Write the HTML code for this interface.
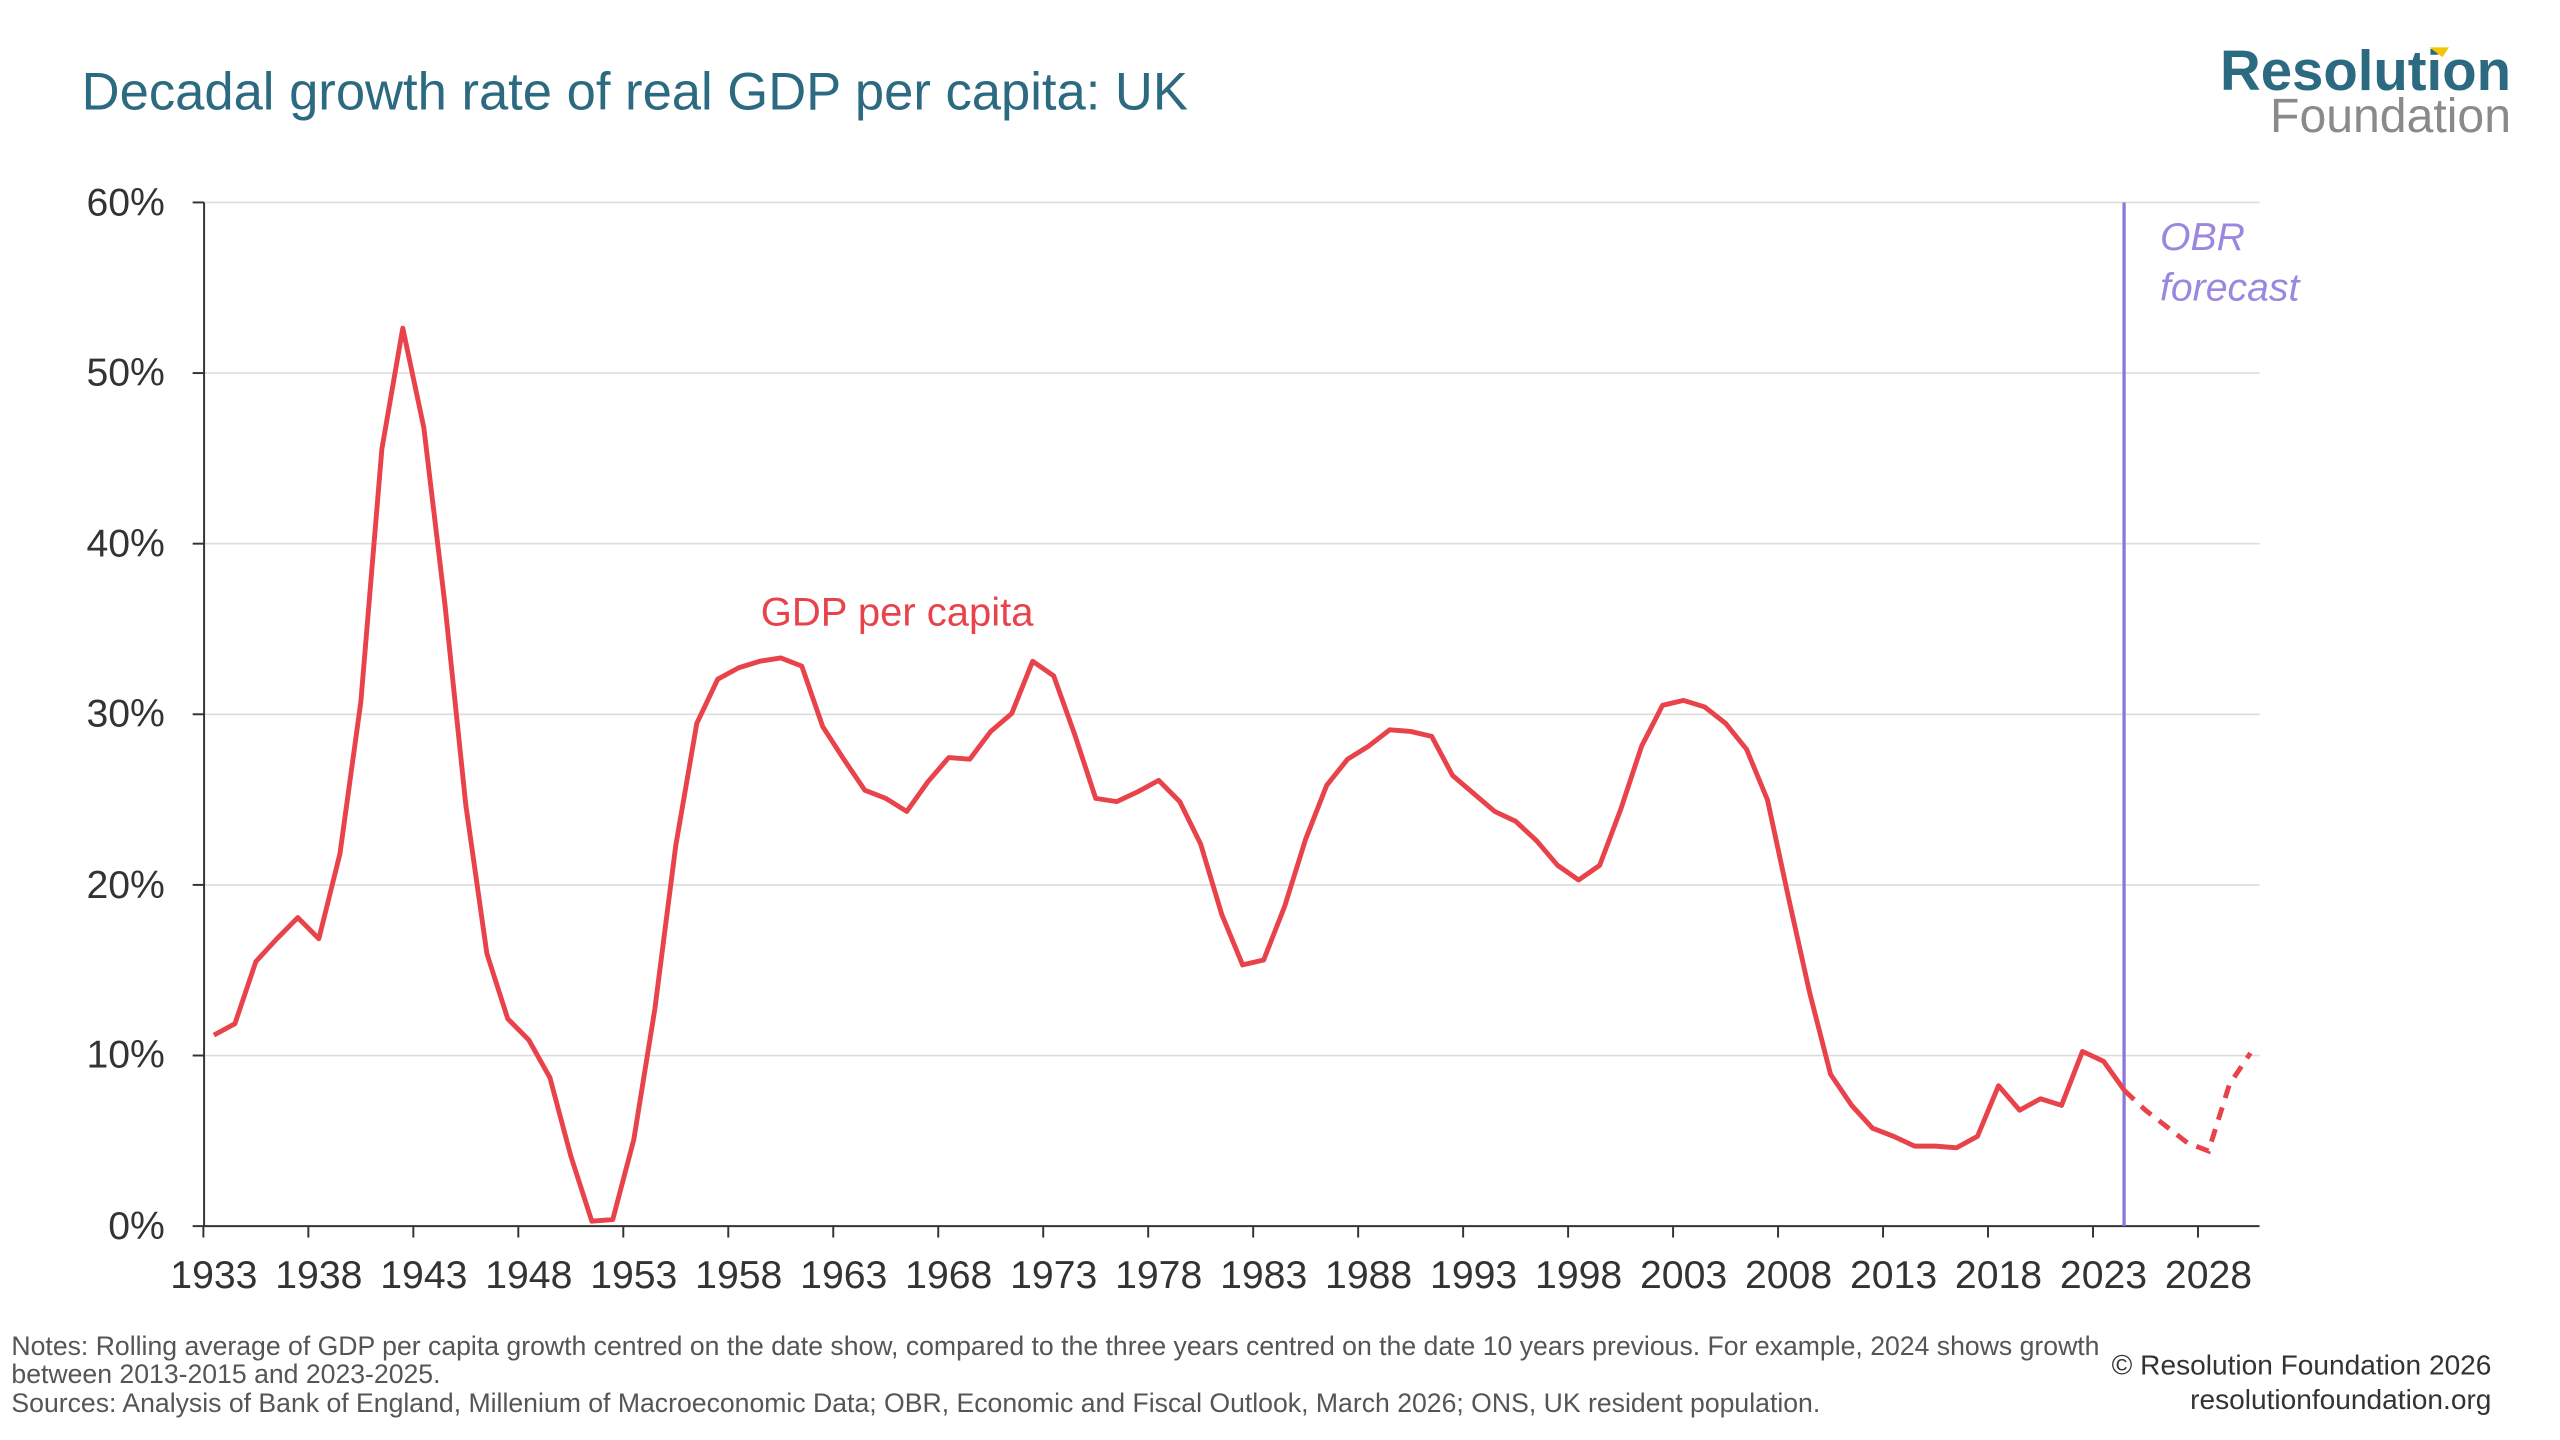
<!DOCTYPE html>
<html><head><meta charset="utf-8"><style>
html,body{margin:0;padding:0;background:#fff;}
svg{display:block;}
text{font-family:"Liberation Sans",sans-serif;}
</style></head><body>
<svg width="2560" height="1440" viewBox="0 0 1568 882" preserveAspectRatio="none" xmlns="http://www.w3.org/2000/svg">
<rect width="1568" height="882" fill="#fff"/>
<text x="50" y="67" font-size="32.2" fill="#2b6a80">Decadal growth rate of real GDP per capita: UK</text>
<text x="1538" y="55" font-size="34.5" font-weight="bold" fill="#2b6a80" text-anchor="end">Resolution</text>
<path d="M1488 29 L1500 29 L1496 35 Z" fill="#f2c500"/>
<text x="1538" y="81" font-size="29.5" fill="#8a8a8a" text-anchor="end">Foundation</text>
<g stroke="#dcdcdc" stroke-width="1">
<line x1="125" y1="124" x2="1384" y2="124"/>
<line x1="125" y1="228.5" x2="1384" y2="228.5"/>
<line x1="125" y1="333" x2="1384" y2="333"/>
<line x1="125" y1="437.5" x2="1384" y2="437.5"/>
<line x1="125" y1="542" x2="1384" y2="542"/>
<line x1="125" y1="646.5" x2="1384" y2="646.5"/>
</g>
<g stroke="#333" stroke-width="1.2">
<line x1="125" y1="124" x2="125" y2="751"/>
<line x1="125" y1="751" x2="1384" y2="751"/>
<line x1="118" y1="124" x2="125" y2="124"/><line x1="118" y1="228.5" x2="125" y2="228.5"/><line x1="118" y1="333" x2="125" y2="333"/><line x1="118" y1="437.5" x2="125" y2="437.5"/><line x1="118" y1="542" x2="125" y2="542"/><line x1="118" y1="646.5" x2="125" y2="646.5"/><line x1="118" y1="751" x2="125" y2="751"/>
</g>
<g stroke="#333" stroke-width="1.2" id="xt"></g>
<g font-size="24" fill="#333" text-anchor="end">
<text x="101" y="132">60%</text><text x="101" y="236">50%</text><text x="101" y="341">40%</text><text x="101" y="445">30%</text><text x="101" y="550">20%</text><text x="101" y="654">10%</text><text x="101" y="759">0%</text>
</g>
<g font-size="24" fill="#333" text-anchor="middle" id="xl"></g>
<line x1="1301" y1="124" x2="1301" y2="751" stroke="#8a77d8" stroke-width="2"/>
<text x="1323" y="153" font-size="24" font-style="italic" fill="#9a88e0">OBR</text>
<text x="1323" y="184" font-size="24" font-style="italic" fill="#9a88e0">forecast</text>
<text x="466" y="383" font-size="24.5" fill="#e8434b">GDP per capita</text>
<polyline id="solid" fill="none" stroke="#e8434b" stroke-width="3" stroke-linejoin="round"/>
<polyline id="dash" fill="none" stroke="#e8434b" stroke-width="3" stroke-dasharray="8,6"/>
<text x="7" y="830" font-size="16.3" fill="#555">Notes: Rolling average of GDP per capita growth centred on the date show, compared to the three years centred on the date 10 years previous. For example, 2024 shows growth</text>
<text x="7" y="847" font-size="16.3" fill="#555">between 2013-2015 and 2023-2025.</text>
<text x="7" y="865" font-size="16.3" fill="#555">Sources: Analysis of Bank of England, Millenium of Macroeconomic Data; OBR, Economic and Fiscal Outlook, March 2026; ONS, UK resident population.</text>
<text x="1526" y="842" font-size="17.2" fill="#333" text-anchor="end">© Resolution Foundation 2026</text>
<text x="1526" y="863" font-size="17.2" fill="#333" text-anchor="end">resolutionfoundation.org</text>
</svg>
<script>
var ys=[634,627,589,575,562,575,523,430,275,201,262,370,493,584,624,637,660,708,748,747,698,618,518,443,416,409,405,403,408,445,465,484,489,497,479,464,465,448,437,405,414,450,489,491,485,478,491,517,560,591,588,555,514,481,465,457,447,448,451,475,486,497,503,515,530,539,530,496,457,432,429,433,443,459,490,550,608,658,677,691,696,702,702,703,696,665,680,673,677,644,650,668,680,690,700,705,664,645];
function X(i){return 131+i*12.86;}
var s=[],d=[];
for(var i=0;i<ys.length;i++){var p=X(i).toFixed(1)+","+ys[i];if(i<=91)s.push(p);if(i>=91)d.push(p);}
document.getElementById("solid").setAttribute("points",s.join(" "));
document.getElementById("dash").setAttribute("points",d.join(" "));
var ns="http://www.w3.org/2000/svg",xt=document.getElementById("xt"),xl=document.getElementById("xl");
for(var y=1933;y<=2028;y+=5){var i=y-1933,x=X(i)-6.43;
var l=document.createElementNS(ns,"line");l.setAttribute("x1",x);l.setAttribute("x2",x);l.setAttribute("y1",751);l.setAttribute("y2",758);xt.appendChild(l);
var t=document.createElementNS(ns,"text");t.setAttribute("x",X(i));t.setAttribute("y",789);t.textContent=y;xl.appendChild(t);}
</script>
</body></html>
